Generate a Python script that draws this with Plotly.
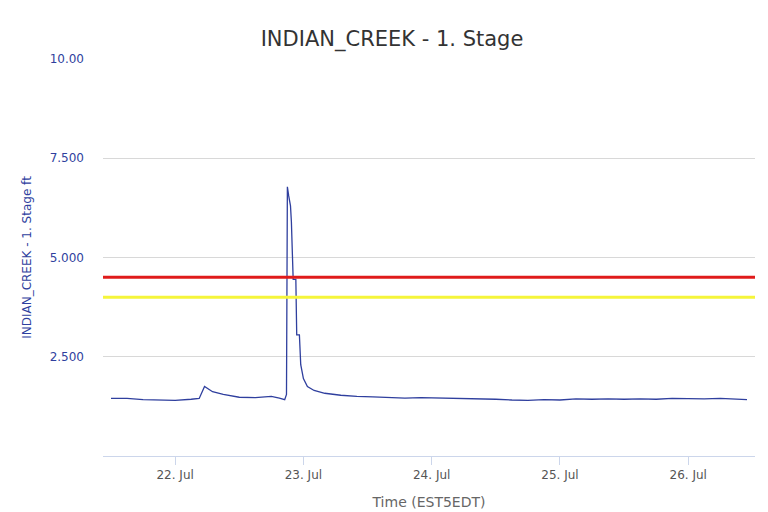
import plotly.graph_objects as go

# stage readings (ft)
times = [
    "2024-07-21 12:00", "2024-07-21 15:00", "2024-07-21 18:00", "2024-07-21 21:00",
    "2024-07-22 00:00", "2024-07-22 03:00", "2024-07-22 04:30", "2024-07-22 05:30",
    "2024-07-22 07:00", "2024-07-22 09:00", "2024-07-22 12:00", "2024-07-22 15:00",
    "2024-07-22 18:00", "2024-07-22 19:30", "2024-07-22 20:30", "2024-07-22 20:50",
    "2024-07-22 21:00", "2024-07-22 21:15", "2024-07-22 21:35", "2024-07-22 21:45",
    "2024-07-22 21:55", "2024-07-22 22:05", "2024-07-22 22:35", "2024-07-22 22:45",
    "2024-07-22 23:15", "2024-07-22 23:30", "2024-07-23 00:00", "2024-07-23 00:45",
    "2024-07-23 02:00", "2024-07-23 04:00", "2024-07-23 07:00", "2024-07-23 10:00",
    "2024-07-23 13:00", "2024-07-23 16:00", "2024-07-23 19:00", "2024-07-23 22:00",
    "2024-07-24 03:00", "2024-07-24 06:00", "2024-07-24 09:00", "2024-07-24 12:00",
    "2024-07-24 15:00", "2024-07-24 18:00", "2024-07-24 21:00", "2024-07-25 00:00",
    "2024-07-25 03:00", "2024-07-25 06:00", "2024-07-25 09:00", "2024-07-25 12:00",
    "2024-07-25 15:00", "2024-07-25 18:00", "2024-07-25 21:00", "2024-07-26 00:00",
    "2024-07-26 03:00", "2024-07-26 06:00", "2024-07-26 09:00", "2024-07-26 11:00",
]
stage = [
    1.45, 1.45, 1.42, 1.41,
    1.40, 1.43, 1.45, 1.75,
    1.62, 1.55, 1.48, 1.47,
    1.50, 1.46, 1.42, 1.55,
    6.78, 6.55, 6.30, 5.90,
    5.30, 4.45, 4.45, 3.05,
    3.05, 2.30, 1.95, 1.75,
    1.65, 1.58, 1.53, 1.50,
    1.49, 1.47, 1.46, 1.47,
    1.46, 1.44, 1.43, 1.43,
    1.41, 1.40, 1.42, 1.41,
    1.44, 1.43, 1.44, 1.43,
    1.44, 1.43, 1.45, 1.44,
    1.44, 1.45, 1.44, 1.42,
]

flood_level = 4.5
action_level = 4.0

fig = go.Figure()
fig.add_trace(go.Scatter(x=times, y=stage, mode="lines", name="Stage",
                         line=dict(color="#2f3f9e", width=1.3)))

fig.add_hline(y=flood_level, line=dict(color="#e01b1b", width=3))
fig.add_hline(y=action_level, line=dict(color="#f5f53a", width=3))

fig.update_layout(
    width=768, height=512,
    paper_bgcolor="white", plot_bgcolor="white",
    margin=dict(l=95, r=21, t=51, b=64, autoexpand=False),
    showlegend=False,
    title=dict(text="INDIAN_CREEK - 1. Stage", x=0.5, y=0.955,
               font=dict(family="DejaVu Sans", size=21, color="#333333")),
    font=dict(family="DejaVu Sans"),
)
fig.update_xaxes(
    range=["2024-07-21 10:30", "2024-07-26 12:30"],
    tickvals=["2024-07-22", "2024-07-23", "2024-07-24", "2024-07-25", "2024-07-26"],
    ticktext=["22. Jul", "23. Jul", "24. Jul", "25. Jul", "26. Jul"],
    ticks="outside", ticklen=8, tickcolor="#ccd6eb",
    showline=True, linecolor="#ccd6eb", showgrid=False,
    tickfont=dict(size=12, color="#555555"),
    title=dict(text="Time (EST5EDT)", font=dict(size=14, color="#666666")),
)
fig.update_yaxes(
    range=[0, 10],
    tickvals=[2.5, 5, 7.5, 10],
    ticktext=["2.500", "5.000", "7.500", "10.00"],
    showgrid=True, gridcolor="#d8d8d8", zeroline=False,
    tickfont=dict(size=12, color="#2f3f9e"),
    title=dict(text="INDIAN_CREEK - 1. Stage ft", font=dict(size=12, color="#2f3f9e")),
    ticklabelstandoff=18,
)

fig.write_html("out.html")
